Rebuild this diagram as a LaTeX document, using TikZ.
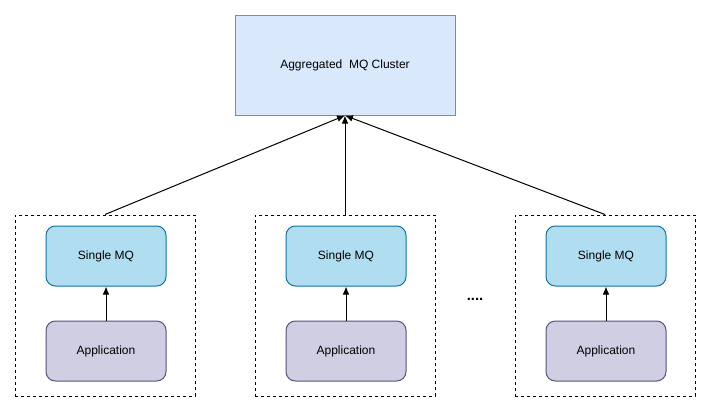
\documentclass[tikz,border=0pt]{standalone}
\usepackage{fontspec}
\setmainfont{Liberation Sans}
\usetikzlibrary{arrows.meta}
\definecolor{clusterfill}{HTML}{DAE8FC}
\definecolor{clusterline}{HTML}{6C8EBF}
\definecolor{mqfill}{HTML}{B1DDF0}
\definecolor{mqline}{HTML}{10739E}
\definecolor{appfill}{HTML}{D0CEE2}
\definecolor{appline}{HTML}{56517E}
\tikzset{
  px/.style={x=0.75pt,y=-0.75pt},
  label text/.style={font=\fontsize{9}{10}\selectfont,text height=6.5pt,text depth=1pt},
  cluster/.style={draw=clusterline,fill=clusterfill,line width=0.75pt,
    minimum width=165pt,minimum height=75pt,inner sep=0pt,label text},
  mqbox/.style={draw=mqline,fill=mqfill,rounded corners=7pt,line width=0.75pt,
    minimum width=90pt,minimum height=45pt,inner sep=0pt,label text},
  appbox/.style={draw=appline,fill=appfill,rounded corners=7pt,line width=0.75pt,
    minimum width=90pt,minimum height=45pt,inner sep=0pt,label text},
  group/.style={draw=black,dashed,dash pattern=on 2.25pt off 2.25pt,line width=0.75pt,
    minimum width=135pt,minimum height=135.75pt,inner sep=0pt},
  link/.style={draw=black,line width=0.75pt,-{Latex[length=6pt,width=5pt]}},
}
\begin{document}
\begin{tikzpicture}[px]
\useasboundingbox (0,0) rectangle (711,411);
\node[cluster] (cluster) at (345,65) {Aggregated\ \ MQ Cluster};
% three groups, each holding a broker fed by an application
\node[group] (g1) at (105,305.5) {};
\node[group] (g2) at (345,305.5) {};
\node[group] (g3) at (605,305.5) {};
\node[mqbox] (mq1) at (106,256) {Single MQ};
\node[mqbox] (mq2) at (346,256) {Single MQ};
\node[mqbox] (mq3) at (606,256) {Single MQ};
\node[appbox] (app1) at (106,351) {Application};
\node[appbox] (app2) at (346,351) {Application};
\node[appbox] (app3) at (606,351) {Application};
\node[font=\bfseries\fontsize{11}{12}\selectfont,inner sep=0pt] (dots) at (475,299) {....};
\draw[link] (app1) -- (mq1);
\draw[link] (app2) -- (mq2);
\draw[link] (app3) -- (mq3);
\draw[link] (g1.north) -- (cluster.south);
\draw[link] (g2.north) -- (cluster.south);
\draw[link] (g3.north) -- (cluster.south);
\end{tikzpicture}
\end{document}
